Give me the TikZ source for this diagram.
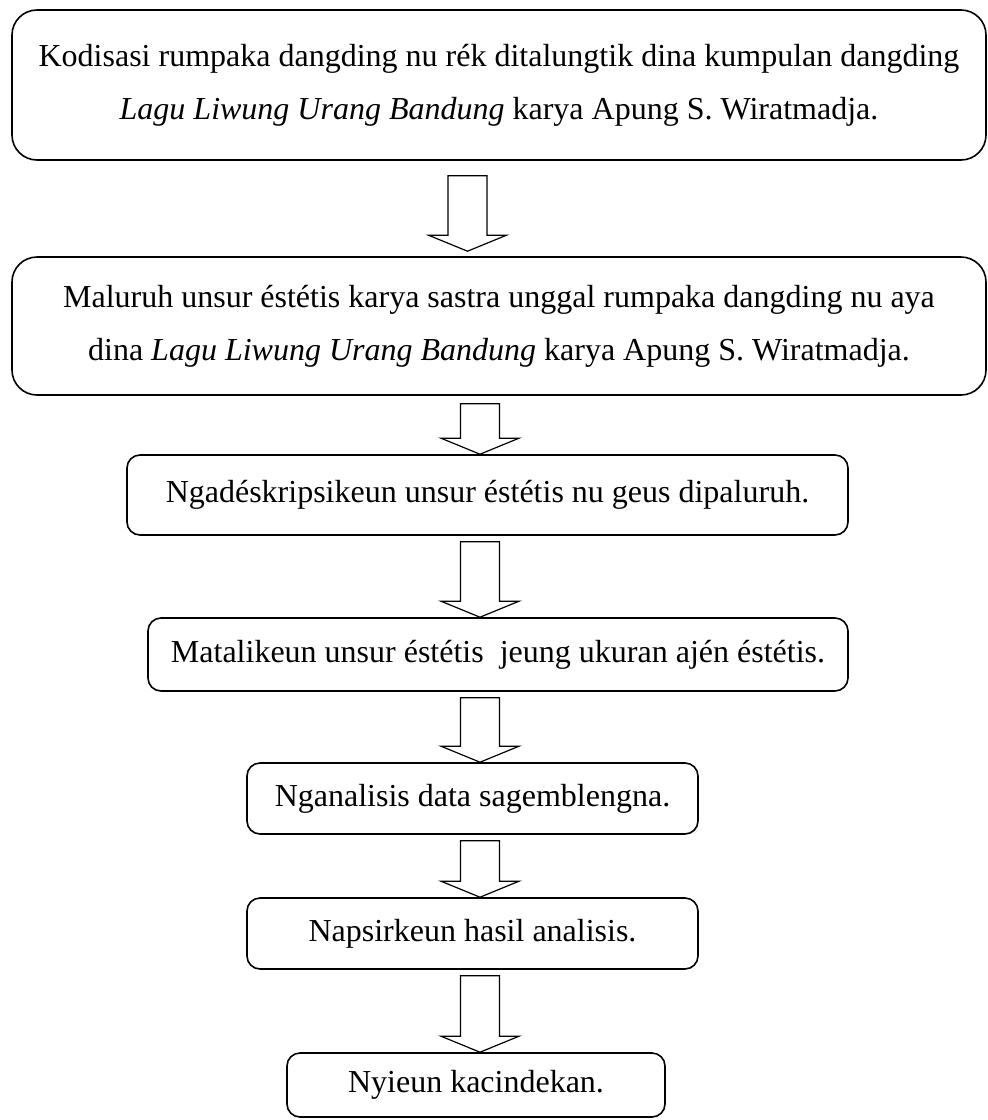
\documentclass[tikz,border=0pt]{standalone}
\usepackage{fontspec}
\setmainfont{Liberation Serif}
\usetikzlibrary{calc}

\begin{document}
\begin{tikzpicture}[x=0.5pt,y=-0.5pt]
 % styles for the boxes and the hollow arrows between them
 \tikzset{bigbox/.style={draw, line width=0.8pt, rounded corners=12.5pt, align=center, inner sep=0pt, font=\fontsize{16}{26.5}\selectfont},
  smallbox/.style={bigbox, rounded corners=6.5pt},
  blockarrow/.style={line width=0.6pt, to path={
   ($(\tikztostart)+(-19.5,#1)$) -- ($(\tikztotarget)+(-19.5,-16)$) -- ($(\tikztotarget)+(-39,-16)$) -- (\tikztotarget)
   -- ($(\tikztotarget)+(39,-16)$) -- ($(\tikztotarget)+(19.5,-16)$) -- ($(\tikztostart)+(19.5,#1)$) -- cycle}},
  blockarrow/.default=6}

 \useasboundingbox (0,0) rectangle (987,1120);

 %axes of the arrows
 \coordinate (ax1) at (467.5,0);
 \coordinate (ax) at (480,0);

 %steps
 \node[bigbox, minimum width=487pt, minimum height=75pt] (kodisasi) at (499,85)
  {Kodisasi rumpaka dangding nu rék ditalungtik dina kumpulan dangding\\
   \textit{Lagu Liwung Urang Bandung} karya Apung S. Wiratmadja.};
 \node[bigbox, minimum width=487pt, minimum height=69pt] (maluruh) at (499,326)
  {Maluruh unsur éstétis karya sastra unggal rumpaka dangding nu aya\\
   dina \textit{Lagu Liwung Urang Bandung} karya Apung S. Wiratmadja.};
 \node[smallbox, minimum width=360.5pt, minimum height=40pt] (ngadeskripsi) at (487.5,495)
  {Ngadéskripsikeun unsur éstétis nu geus dipaluruh.};
 \node[smallbox, minimum width=350pt, minimum height=36.5pt] (matalikeun) at (498,654.5)
  {Matalikeun unsur éstétis\ \ jeung ukuran ajén éstétis.};
 \node[smallbox, minimum width=225.5pt, minimum height=35.5pt] (nganalisis) at (472.5,798.5)
  {Nganalisis data sagemblengna.};
 \node[smallbox, minimum width=225.5pt, minimum height=35.5pt] (napsirkeun) at (472.5,933.5)
  {Napsirkeun hasil analisis.};
 \node[smallbox, minimum width=189pt, minimum height=32pt] (kacindekan) at (476,1085)
  {Nyieun kacindekan.};

 %hollow arrows
 \draw[blockarrow=15] (kodisasi.south -| ax1) to ($(maluruh.north -| ax1)+(0,-5)$);
 \draw[blockarrow=8] (maluruh.south -| ax) to (ngadeskripsi.north -| ax);
 \draw[blockarrow] (ngadeskripsi.south -| ax) to (matalikeun.north -| ax);
 \draw[blockarrow] (matalikeun.south -| ax) to (nganalisis.north -| ax);
 \draw[blockarrow] (nganalisis.south -| ax) to (napsirkeun.north -| ax);
 \draw[blockarrow] (napsirkeun.south -| ax) to (kacindekan.north -| ax);
\end{tikzpicture}
\end{document}
